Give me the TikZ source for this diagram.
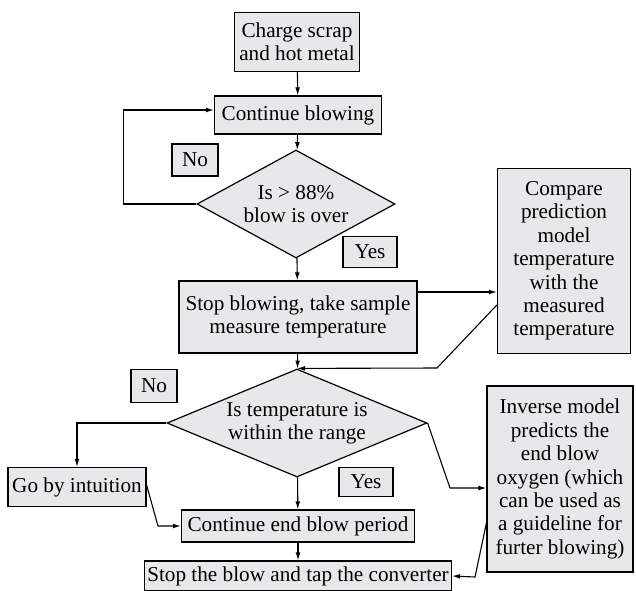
\documentclass[tikz,border=0pt]{standalone}
\usepackage{fontspec}
\setmainfont{Liberation Serif}
\usepackage{tikz}
\usetikzlibrary{arrows.meta,shapes.geometric,positioning}
\definecolor{fill1}{RGB}{231,232,233}

\begin{document}
\begin{tikzpicture}[x=0.5pt,y=0.5pt,
		blk/.style={draw,fill=fill1,line width=0.6pt,align=center,inner sep=0pt,font=\fontsize{10.6}{11.7}\selectfont},
		dec/.style={blk,diamond},
		arr/.style={line width=0.55pt,-{Latex[length=4pt,width=2.4pt]}},
		ln/.style={line width=0.55pt}]
		\useasboundingbox (0,0) rectangle (636,-590);
		\node[blk,minimum width=62.5pt,minimum height=29.5pt] (charge) at (297,-42) {Charge scrap\\and hot metal};
		\node[blk,minimum width=83.5pt,minimum height=19pt] (blow) at (298,-115) {Continue blowing};
		\node[dec,aspect=1.95,minimum width=99pt,minimum height=54pt] (dec1) at (296,-204) {Is > 88\%\\blow is over};
		\node[blk,minimum width=23pt,minimum height=16pt] (no1) at (195,-160) {No};
		\node[blk,minimum width=27pt,minimum height=15.5pt] (yes1) at (370,-252) {Yes};
		\node[blk,minimum width=119pt,minimum height=36pt] (stop1) at (298,-317) {Stop blowing, take sample\\measure temperature};
		\node[blk,minimum width=66.5pt,minimum height=92.5pt] (compare) at (564,-261) {Compare\\prediction\\model\\temperature\\with the\\measured\\temperature};
		\node[dec,aspect=2.5,minimum width=130pt,minimum height=54pt] (dec2) at (297,-423) {Is temperature is\\within the range};
		\node[blk,minimum width=23pt,minimum height=16.5pt] (no2) at (154,-386) {No};
		\node[blk,minimum width=27pt,minimum height=14.5pt] (yes2) at (366,-482) {Yes};
		\node[blk,minimum width=69pt,minimum height=19.5pt] (go) at (77,-487) {Go by intuition};
		\node[blk,minimum width=116.5pt,minimum height=16pt] (cont) at (298,-526) {Continue end blow period};
		\node[blk,minimum width=73pt,minimum height=93pt] (inverse) at (560,-479) {Inverse model\\predicts the\\end blow\\oxygen (which\\can be used as\\a guideline for\\furter blowing)};
		\node[blk,minimum width=153.5pt,minimum height=15pt] (stop2) at (298,-576) {Stop the blow and tap the converter};

		\coordinate (k1) at (437,-368);
		\coordinate (k2) at (158,-526);
		\coordinate (k3) at (450,-488);
		\coordinate (k4) at (475,-577);

		\draw[arr] (charge) -- (blow);
		\draw[arr] (blow) -- (dec1);
		\draw[arr] (dec1.west) -- ++(-73,0) |- ([yshift=2.5pt]blow.west);
		\draw[arr] (dec1) -- (stop1);
		\draw[arr] ([yshift=12.5pt]stop1.east) -- ([yshift=12.5pt]stop1.east -| compare.west);
		\draw[arr] ([yshift=-22pt]compare.west) -- (k1) -- (dec2.north);
		\draw[arr] (stop1) -- (dec2);
		\draw[arr] (dec2.west) -| (go.north);
		\draw[arr] ([yshift=1pt]go.east) -- (k2) -- (cont.west);
		\draw[arr] (dec2) -- (cont);
		\draw[arr] (cont) -- (stop2);
		\draw[arr] (dec2.east) -- (k3) -- (k3 -| inverse.west);
		\draw[arr] ([yshift=-22pt]inverse.west) -- (k4) -- (stop2.east);
\end{tikzpicture}
\end{document}
